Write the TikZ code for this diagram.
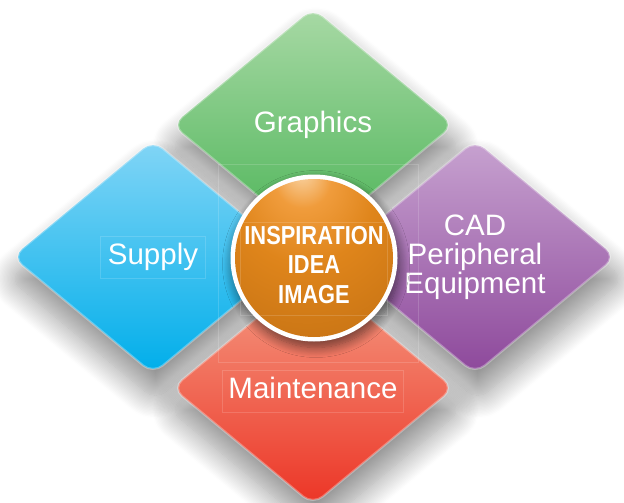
\documentclass[tikz,border=0pt]{standalone}
\usepackage{fontspec}
\setmainfont{Liberation Sans}
\newfontfamily\orbfont[FakeStretch=0.84]{Liberation Sans Bold}
\usetikzlibrary{shapes.geometric, shadows.blur}
\definecolor{greenTop}{HTML}{A8D9A5}
\definecolor{greenBot}{HTML}{4CB457}
\definecolor{blueTop}{HTML}{82D5F6}
\definecolor{blueBot}{HTML}{00AEEA}
\definecolor{purpleTop}{HTML}{C7A2D0}
\definecolor{purpleBot}{HTML}{8D489B}
\definecolor{redTop}{HTML}{F59E86}
\definecolor{redBot}{HTML}{EC3526}
\definecolor{orbA}{HTML}{FAD7AA}
\definecolor{orbB}{HTML}{F09C3C}
\definecolor{orbC}{HTML}{DF851B}
\definecolor{orbD}{HTML}{C06E12}
\definecolor{orbE}{HTML}{98580C}
\pgfdeclareradialshading{orbshade}{\pgfpoint{-4bp}{28bp}}{color(0bp)=(orbA); color(9bp)=(orbB); color(22bp)=(orbC); color(50bp)=(orbD); color(80bp)=(orbE)}
\tikzstyle{petal} = [diamond, aspect=1.205, minimum width=5.64cm, minimum height=4.68cm, inner sep=0pt, rounded corners=0.25cm, text=white, align=center, font=\fontsize{16.8}{16.4}\selectfont, draw=white, draw opacity=0.3, line width=1.2pt, blur shadow={shadow xshift=0.05cm, shadow yshift=-0.42cm, shadow scale=1.04, shadow opacity=42, shadow blur radius=0.45cm, shadow blur steps=18}]
\tikzstyle{ring} = [circle, minimum size=3.34cm, inner sep=0pt, fill=white, blur shadow={shadow xshift=0.04cm, shadow yshift=-0.12cm, shadow opacity=55, shadow blur radius=0.2cm, shadow blur steps=12}]
\tikzstyle{orb} = [circle, minimum size=3.16cm, inner sep=0pt, shading=orbshade]
\tikzstyle{orbtext} = [text=white, align=center, font=\orbfont\fontsize{14.8}{16.7}\selectfont]
\tikzstyle{ghost} = [draw=white, draw opacity=0.15, line width=0.4pt]

\begin{document}
\begin{tikzpicture}
    \useasboundingbox (0,0) rectangle (12.48,10.04);
    \node [petal, top color=greenTop, bottom color=greenBot] at (6.26,7.54) (graphics) {Graphics};
    \node [petal, top color=blueTop, bottom color=blueBot] at (3.06,4.90) (supply) {Supply};
    \node [petal, top color=purpleTop, bottom color=purpleBot] at (9.50,4.90) (cad) {CAD\\Peripheral\\Equipment};
    \node [petal, top color=redTop, bottom color=redBot] at (6.26,2.28) (maint) {Maintenance};

    \draw [ghost] (4.36,6.76) rectangle (8.36,2.80);
    \draw [ghost] (2.00,5.32) rectangle (4.10,4.48);
    \draw [ghost] (4.44,2.64) rectangle (8.06,1.80);

    \node [ring] at (6.28,4.88) (ring) {};
    \node [orb] at (6.28,4.88) (orb) {};
    \draw [ghost] (4.80,5.60) rectangle (7.74,3.74);
    \node [orbtext] at (6.28,4.74) (idea) {INSPIRATION\\IDEA\\IMAGE};
\end{tikzpicture}
\end{document}
